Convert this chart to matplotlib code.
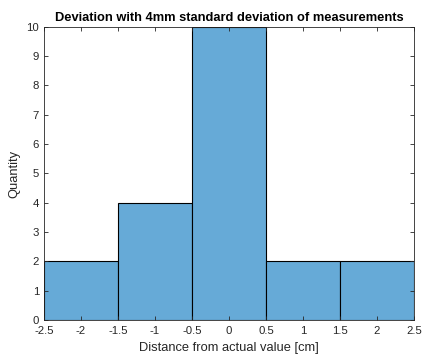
import matplotlib
matplotlib.use("Agg")
import matplotlib.pyplot as plt
import numpy as np

# histogram data
bin_edges = [-2.5, -1.5, -0.5, 0.5, 1.5, 2.5]
counts = [2, 4, 10, 2, 2]
x_ticks = [-2.5, -2, -1.5, -1, -0.5, 0, 0.5, 1, 1.5, 2, 2.5]
x_tick_labels = ["-2.5", "-2", "-1.5", "-1", "-0.5", "0", "0.5", "1", "1.5", "2", "2.5"]
y_ticks = list(range(0, 11))

plt.rcParams['font.family'] = ['Liberation Sans', 'DejaVu Sans']
plt.rcParams['font.size'] = 8

fig = plt.figure(figsize=(4.22, 3.58), dpi=100)
ax = fig.add_axes([0.104, 0.106, 0.877, 0.819])

ax.hist(bin_edges[:-1], bins=bin_edges, weights=counts,
        color='#66AAD7', edgecolor='black', linewidth=0.8)

ax.set_xlim(-2.5, 2.5)
ax.set_ylim(0, 10)
ax.set_xticks(x_ticks)
ax.set_xticklabels(x_tick_labels)
ax.set_yticks(y_ticks)

ax.tick_params(direction='in', top=True, right=True, length=3, width=0.6,
               colors='#262626', labelsize=8.2)
ax.tick_params(axis='x', pad=4.5)
for s in ax.spines.values():
    s.set_color('#262626')
    s.set_linewidth(0.6)

ax.set_title("Deviation with 4mm standard deviation of measurements",
             fontsize=9.3, fontweight='bold', pad=4)
ax.set_xlabel("Distance from actual value [cm]", fontsize=9.3, color='#262626', labelpad=4)
ax.set_ylabel("Quantity", fontsize=9.3, color='#262626', labelpad=4)

fig.savefig("out.png", dpi=100)
